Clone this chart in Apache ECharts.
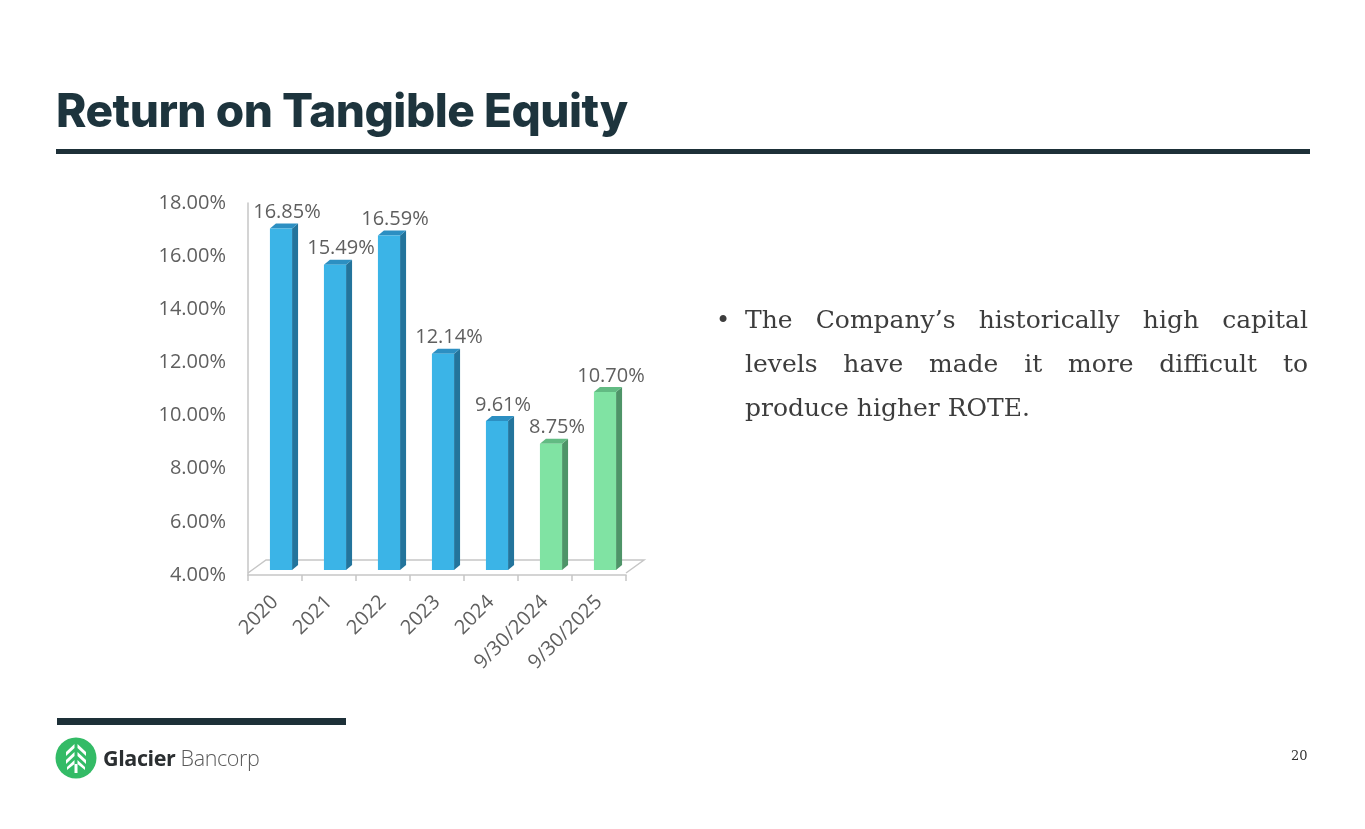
<!DOCTYPE html>
<html>
<head>
<meta charset="utf-8">
<script src="https://cdn.jsdelivr.net/npm/echarts@6/dist/echarts.min.js"></script>
<style>
  html,body{margin:0;padding:0;background:#fff;width:1365px;height:829px;overflow:hidden;}
  #chart{position:absolute;left:0;top:0;width:1365px;height:829px;}
  .title{position:absolute;left:56px;top:82px;font-family:Inter,"Open Sans",sans-serif;font-weight:800;font-size:46px;color:#1d343d;letter-spacing:-0.5px;white-space:nowrap;}
  .rule{position:absolute;background:#1d3038;}
  .body{position:absolute;left:745px;top:298px;width:563px;font-family:"DejaVu Serif",serif;font-size:25px;line-height:44px;color:#3d3d3d;}
  .body .j{text-align:justify;text-align-last:justify;white-space:nowrap;}
  .bullet{position:absolute;left:716px;top:298px;font-family:"DejaVu Serif",serif;font-size:24px;line-height:44px;color:#3d3d3d;}
  .logo{position:absolute;left:55px;top:737px;}
  .logotext{position:absolute;left:103px;top:743px;font-family:"Open Sans",sans-serif;font-size:21.5px;line-height:30px;white-space:nowrap;letter-spacing:-0.4px;}
  .page{position:absolute;left:1291px;top:748px;font-family:"DejaVu Serif",serif;font-size:13px;color:#333;}
</style>
</head>
<body>
<div id="chart"></div>
<div class="title">Return on Tangible Equity</div>
<div class="rule" style="left:56px;top:149px;width:1254px;height:5px;"></div>
<div class="rule" style="left:57px;top:718px;width:289px;height:7px;"></div>
<div class="bullet">•</div>
<div class="body">
  <div class="j">The Company’s historically high capital</div>
  <div class="j">levels have made it more difficult to</div>
  <div>produce higher ROTE.</div>
</div>
<svg class="logo" width="42" height="42" viewBox="0 0 42 42">
  <circle cx="21" cy="21" r="20.5" fill="#33bb66"/>
  <g fill="#ffffff">
    <path d="M19.5 7 L11 15 L11 19 L19.5 11 Z"/>
    <path d="M22.5 7 L31 15 L31 19 L22.5 11 Z"/>
    <path d="M19.5 15 L11 23 L11 27 L19.5 19 Z"/>
    <path d="M22.5 15 L31 23 L31 27 L22.5 19 Z"/>
    <path d="M19.5 23 L12 30 L12 33 L19.5 27 Z"/>
    <path d="M22.5 23 L30 30 L30 33 L22.5 27 Z"/>
    <rect x="19.5" y="27" width="3" height="9"/>
  </g>
</svg>
<div class="logotext"><span style="font-weight:700;color:#2b2f31;">Glacier</span> <span style="font-weight:300;color:#5a5a5a;">Bancorp</span></div>
<div class="page">20</div>
<script>
const categories = ['2020', '2021', '2022', '2023', '2024', '9/30/2024', '9/30/2025'];
const values = [16.85, 15.49, 16.59, 12.14, 9.61, 8.75, 10.70];
const periodType = ['year', 'year', 'year', 'year', 'year', 'ytd', 'ytd'];
const yMin = 4, yMax = 18, yStep = 2;

const palette = {
  year: {front: '#3bb4e7', side: '#23749c', top: '#2c8fc2'},
  ytd:  {front: '#80e3a3', side: '#4e9468', top: '#62bb83'}
};
const labelFont = '"Open Sans", sans-serif';
const labelColor = '#5f5f5f';

const chart = echarts.init(document.getElementById('chart'));

function renderBar(params, api) {
  const i = api.value(0);
  const v = api.value(1);
  const base = api.coord([i, yMin]);
  const top = api.coord([i, v]);
  const band = api.size([1, 0])[0];
  const w = band * 0.41;
  const dx = 6, dy = 5, shift = 6, lift = 5;
  const x0 = base[0] - w / 2 + shift;
  const x1 = x0 + w;
  const yb = base[1] - lift;
  const yt = top[1] - lift;
  const c = palette[periodType[i]];
  return {
    type: 'group',
    children: [
      {type: 'polygon', shape: {points: [[x1, yt], [x1 + dx, yt - dy], [x1 + dx, yb - dy], [x1, yb]]}, style: {fill: c.side}},
      {type: 'polygon', shape: {points: [[x0, yt], [x0 + dx, yt - dy], [x1 + dx, yt - dy], [x1, yt]]}, style: {fill: c.top}},
      {type: 'rect', shape: {x: x0, y: yt, width: w, height: yb - yt}, style: {fill: c.front}},
      {type: 'text', style: {text: v.toFixed(2) + '%', x: (x0 + x1) / 2 + 6, y: yt - 16, align: 'center', verticalAlign: 'middle', fill: labelColor, font: '20px ' + labelFont}}
    ]
  };
}

function renderFloor(params, api) {
  const first = api.coord([0, yMin]);
  const last = api.coord([categories.length - 1, yMin]);
  const band = api.size([1, 0])[0];
  const L = first[0] - band / 2, R = last[0] + band / 2, y = first[1] - 2;
  const d = 18, h = 13;
  return {
    type: 'polyline',
    shape: {points: [[L, y], [L + d, y - h], [R + d, y - h], [R, y]]},
    style: {stroke: '#c6c6c6', lineWidth: 1.5, fill: null},
    z2: 0
  };
}

chart.setOption({
  animation: false,
  grid: {left: 248, top: 203, width: 378, height: 372, containLabel: false},
  xAxis: {
    type: 'category',
    data: categories,
    axisLine: {show: true, lineStyle: {color: '#c6c6c6', width: 1.5}},
    axisTick: {show: true, length: 6, lineStyle: {color: '#c6c6c6', width: 1.5}},
    axisLabel: {rotate: 45, margin: 24, color: labelColor, fontSize: 20, fontFamily: labelFont}
  },
  yAxis: {
    type: 'value',
    min: yMin, max: yMax, interval: yStep,
    axisLine: {show: true, lineStyle: {color: '#c6c6c6', width: 1.5}},
    axisTick: {show: false},
    splitLine: {show: false},
    axisLabel: {margin: 22, color: labelColor, fontSize: 20, fontFamily: labelFont, formatter: v => v.toFixed(2) + '%'}
  },
  series: [
    {type: 'custom', renderItem: renderFloor, data: [[0, yMin]], silent: true, z: 1},
    {type: 'custom', renderItem: renderBar, data: values.map((v, i) => [i, v]), z: 2}
  ]
});
</script>
</body>
</html>
